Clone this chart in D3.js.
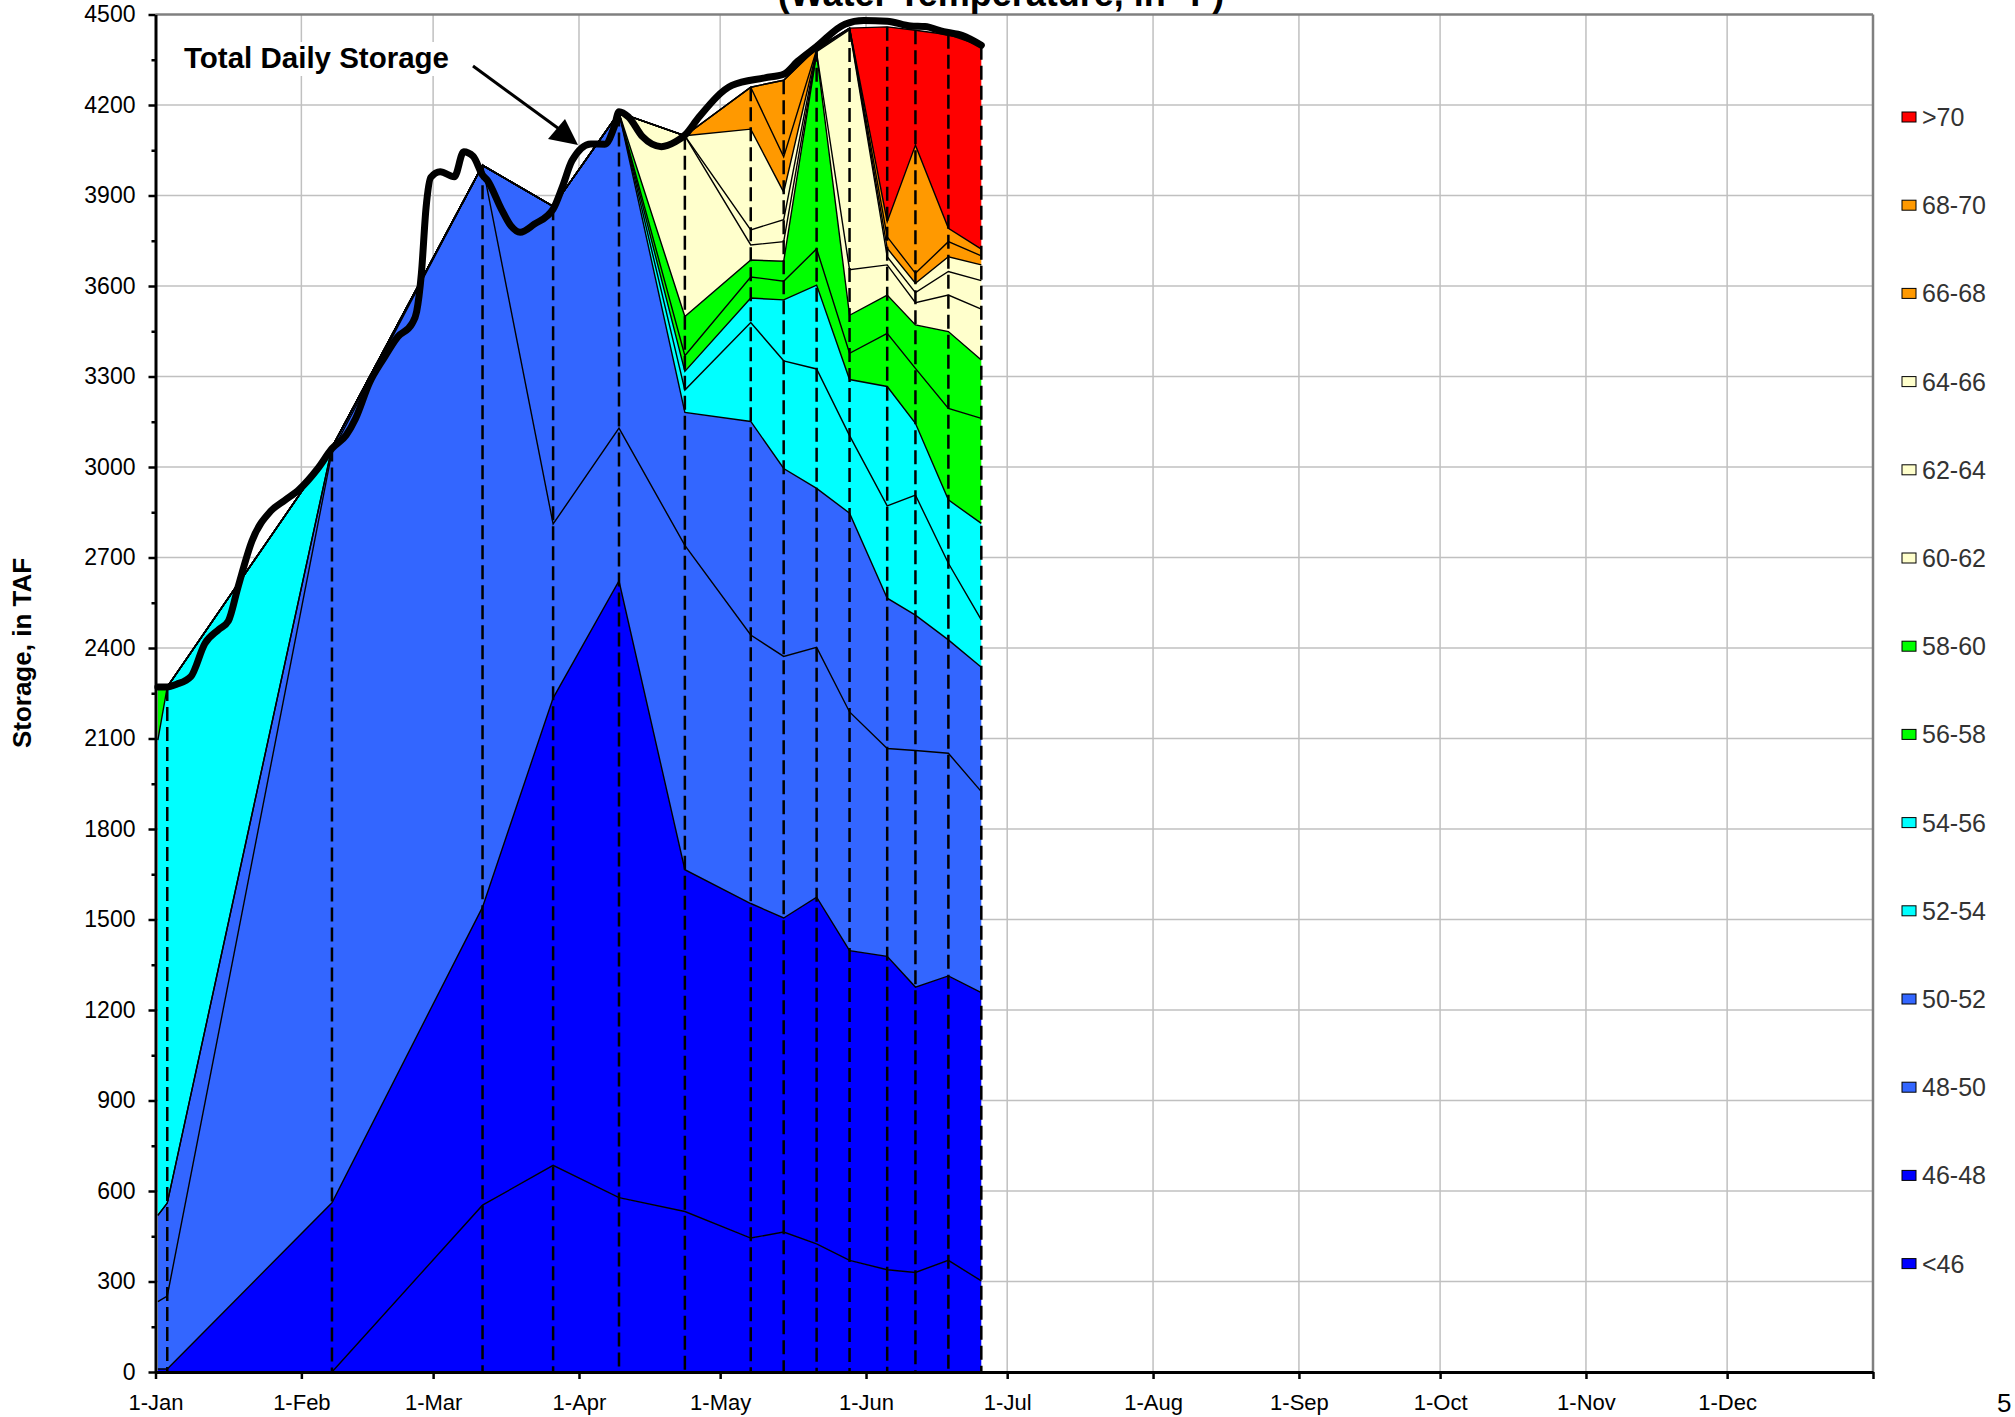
<!DOCTYPE html>
<html>
<head>
<meta charset="utf-8">
<script src="https://cdnjs.cloudflare.com/ajax/libs/d3/7.8.5/d3.min.js"></script>
<style>
  body { margin: 0; background: #fff; }
  svg text { font-family: "Liberation Sans", Arial, sans-serif; }
</style>
</head>
<body>
<script>
// temperature bands, bottom of the stack first
var bands = ["<46", "46-48", "48-50", "50-52", "52-54", "54-56", "56-58", "58-60", "60-62", "62-64", "64-66", "66-68", "68-70", ">70"];
var bandColors = ["#0000FF", "#0000FF", "#3366FF", "#3366FF", "#00FFFF", "#00FFFF", "#00FF00", "#00FF00", "#FFFFCC", "#FFFFCC", "#FFFFCC", "#FF9900", "#FF9900", "#FF0000"];

// temperature profile dates
var profileDates = ["2009-01-01", "2009-01-03", "2009-02-07", "2009-03-11", "2009-03-26", "2009-04-09", "2009-04-23",
    "2009-05-07", "2009-05-14", "2009-05-21", "2009-05-28", "2009-06-05", "2009-06-11", "2009-06-18", "2009-06-25"];

// storage in each band at each profile date (TAF)
var lt46   = [0, 0, 0, 553, 685, 578, 532, 444, 464, 425, 370, 339, 330, 370, 302];
var t46_48 = [10, 10, 561, 988, 1549, 2044, 1133, 1109, 1041, 1149, 1027, 1039, 946, 943, 956];
var t48_50 = [223, 242, 2489, 2459, 577, 507, 1075, 890, 867, 828, 791, 689, 784, 738, 666];
var t50_52 = [286, 308, 15, 0, 1053, 1046, 441, 708, 623, 527, 659, 498, 449, 376, 412];
var t52_54 = [0, 0, 0, 0, 0, 0, 74, 328, 357, 396, 257, 306, 398, 254, 157];
var t54_56 = [1576, 1711, 0, 0, 0, 0, 62, 81, 202, 278, 186, 396, 238, 210, 320];
var t56_58 = [176, 0, 0, 0, 0, 0, 52, 70, 62, 120, 87, 176, 182, 303, 348];
var t58_60 = [0, 0, 0, 0, 0, 0, 130, 56, 66, 647, 126, 127, 144, 255, 194];
var t60_62 = [0, 0, 0, 0, 0, 0, 599, 50, 65, 4, 151, 100, 74, 121, 168];
var t62_64 = [0, 0, 0, 0, 0, 0, 0, 50, 73, 3, 796, 27, 33, 78, 95];
var t64_66 = [0, 0, 0, 0, 0, 0, 0, 334, 91, 3, 5, 28, 31, 49, 52];
var t66_68 = [0, 0, 0, 0, 0, 0, 0, 139, 117, 3, 0, 38, 33, 50, 30];
var t68_70 = [0, 0, 0, 0, 0, 0, 0, 0, 254, 4, 0, 50, 425, 44, 22];
var gt70   = [0, 0, 0, 0, 0, 0, 0, 0, 0, 3, 0, 646, 381, 642, 674];

// total daily storage (TAF)
var dailyDates = ["2009-01-01", "2009-01-03", "2009-01-05", "2009-01-08", "2009-01-11", "2009-01-14", "2009-01-16",
    "2009-01-18", "2009-01-21", "2009-01-25", "2009-01-28", "2009-01-31", "2009-02-04", "2009-02-07", "2009-02-10",
    "2009-02-12", "2009-02-15", "2009-02-18", "2009-02-21", "2009-02-24", "2009-02-25", "2009-02-26", "2009-02-27",
    "2009-02-28", "2009-03-02", "2009-03-05", "2009-03-07", "2009-03-09", "2009-03-11", "2009-03-12", "2009-03-15",
    "2009-03-17", "2009-03-19", "2009-03-22", "2009-03-26", "2009-03-28", "2009-03-30", "2009-04-03", "2009-04-06",
    "2009-04-08", "2009-04-09", "2009-04-11", "2009-04-14", "2009-04-18", "2009-04-21", "2009-04-23", "2009-04-26",
    "2009-05-03", "2009-05-10", "2009-05-14", "2009-05-17", "2009-05-21", "2009-05-27", "2009-05-31", "2009-06-05",
    "2009-06-10", "2009-06-13", "2009-06-17", "2009-06-21", "2009-06-25"];
var dailyTotal = [2271, 2271, 2280, 2305, 2415, 2462, 2490,
    2600, 2755, 2854, 2890, 2925, 2995, 3061, 3105,
    3160, 3280, 3360, 3432, 3475, 3515, 3640, 3860,
    3960, 3979, 3962, 4045, 4030, 3968, 3951, 3855,
    3800, 3778, 3805, 3855, 3930, 4015, 4071, 4070,
    4128, 4178, 4161, 4095, 4062, 4078, 4100, 4160,
    4265, 4290, 4302, 4345, 4394, 4468, 4480, 4478,
    4462, 4460, 4443, 4430, 4398];

var yTicks = d3.range(0, 4501, 300);
var monthLabels = ["1-Jan", "1-Feb", "1-Mar", "1-Apr", "1-May", "1-Jun", "1-Jul", "1-Aug", "1-Sep", "1-Oct", "1-Nov", "1-Dec", ""];

var width = 2015;
var height = 1417;
var parse = d3.timeParse("%Y-%m-%d");

var svg = d3.select("body")
    .append("svg")
    .attr("width", width)
    .attr("height", height);

var x = d3.scaleTime()
    .domain([new Date(2009, 0, 1), new Date(2010, 0, 1)])
    .range([155.5, 1873]);
var y = d3.scaleLinear()
    .domain([0, 4500])
    .range([1372, 14.5]);

// points sit in the middle of their day
function xDay(d) { return x(d3.timeHour.offset(d, 12)); }

// table for the stack
var bandArrays = [lt46, t46_48, t48_50, t50_52, t52_54, t54_56, t56_58, t58_60, t60_62, t62_64, t64_66, t66_68, t68_70, gt70];
var table = profileDates.map(function(s, i) {
    var row = { date: parse(s) };
    bands.forEach(function(b, k) { row[b] = bandArrays[k][i]; });
    return row;
});
var series = d3.stack().keys(bands)(table);

// gridlines
var months = d3.timeMonth.range(new Date(2009, 0, 1), new Date(2010, 0, 2));
svg.append("g").selectAll("line")
    .data(yTicks.filter(function(v) { return v > 0 && v < 4500; }))
    .enter().append("line")
    .attr("x1", x.range()[0]).attr("x2", x.range()[1])
    .attr("y1", function(d) { return y(d); }).attr("y2", function(d) { return y(d); })
    .attr("stroke", "#c0c0c0").attr("stroke-width", 1.5);
svg.append("g").selectAll("line")
    .data(months.slice(1, 12))
    .enter().append("line")
    .attr("x1", function(d) { return x(d); }).attr("x2", function(d) { return x(d); })
    .attr("y1", y(4500)).attr("y2", y(0))
    .attr("stroke", "#c0c0c0").attr("stroke-width", 1.5);

// stacked areas
var area = d3.area()
    .x(function(d) { return xDay(d.data.date); })
    .y0(function(d) { return y(d[0]); })
    .y1(function(d) { return y(d[1]); });
svg.append("g").selectAll("path")
    .data(series)
    .enter().append("path")
    .attr("d", area)
    .attr("fill", function(d, i) { return bandColors[i]; });

var topLine = d3.line()
    .x(function(d) { return xDay(d.data.date); })
    .y(function(d) { return y(d[1]); });
svg.append("g").selectAll("path")
    .data(series)
    .enter().append("path")
    .attr("d", topLine)
    .attr("fill", "none")
    .attr("stroke", "#000")
    .attr("stroke-width", 1.4);

// dashed lines at each profile date
var last = series[series.length - 1];
svg.append("g").selectAll("line")
    .data(last.slice(1))
    .enter().append("line")
    .attr("x1", function(d) { return xDay(d.data.date); })
    .attr("x2", function(d) { return xDay(d.data.date); })
    .attr("y1", function(d) { return y(d[1]); })
    .attr("y2", y(0))
    .attr("stroke", "#000")
    .attr("stroke-width", 2.5)
    .attr("stroke-dasharray", "14,6");

// total daily storage
var daily = dailyDates.map(function(s, i) { return { date: parse(s), v: dailyTotal[i] }; });
svg.append("path")
    .datum(daily)
    .attr("d", d3.line()
        .curve(d3.curveMonotoneX)
        .x(function(d) { return xDay(d.date); })
        .y(function(d) { return y(d.v); }))
    .attr("fill", "none")
    .attr("stroke", "#000")
    .attr("stroke-width", 7)
    .attr("stroke-linejoin", "round")
    .attr("stroke-linecap", "round");

// frame top and right
svg.append("line")
    .attr("x1", x.range()[0]).attr("x2", x.range()[1])
    .attr("y1", y(4500)).attr("y2", y(4500))
    .attr("stroke", "#808080").attr("stroke-width", 2.5);
svg.append("line")
    .attr("x1", x.range()[1]).attr("x2", x.range()[1])
    .attr("y1", y(4500)).attr("y2", y(0))
    .attr("stroke", "#808080").attr("stroke-width", 2.5);

// y axis
var yAxis = svg.append("g")
    .attr("transform", "translate(" + x.range()[0] + ",0)")
    .call(d3.axisLeft(y).tickValues(yTicks).tickSize(7).tickSizeOuter(0).tickPadding(13)
        .tickFormat(d3.format("d")));
svg.append("g")
    .attr("transform", "translate(" + x.range()[0] + ",0)")
    .call(d3.axisLeft(y).tickValues(d3.range(150, 4500, 300)).tickSize(4).tickSizeOuter(0).tickFormat(""))
    .select(".domain").remove();

// x axis
var xAxis = svg.append("g")
    .attr("transform", "translate(0," + y(0) + ")")
    .call(d3.axisBottom(x).tickValues(months).tickSize(7).tickSizeOuter(0).tickPadding(15)
        .tickFormat(function(d, i) { return monthLabels[i]; }));

svg.selectAll(".domain").attr("stroke", "#000").attr("stroke-width", 3);
svg.selectAll(".tick line").attr("stroke", "#000").attr("stroke-width", 2.5);
yAxis.selectAll("text").style("font-size", "23px").attr("fill", "#000");
xAxis.selectAll("text").style("font-size", "22px").attr("fill", "#000");

// axis title
svg.append("text")
    .attr("transform", "translate(31,653) rotate(-90)")
    .attr("text-anchor", "middle")
    .style("font-size", "26px")
    .style("font-weight", "bold")
    .text("Storage, in TAF");

// chart title, cut off at the top of the page as in the original
svg.append("text")
    .attr("x", 1001)
    .attr("y", 6)
    .attr("text-anchor", "middle")
    .style("font-size", "36px")
    .style("font-weight", "bold")
    .text("(Water Temperature, in °F)");

// annotation
svg.append("rect")
    .attr("x", 178).attr("y", 42)
    .attr("width", 280).attr("height", 34)
    .attr("fill", "#fff");
svg.append("text")
    .attr("x", 184)
    .attr("y", 68)
    .style("font-size", "29.5px")
    .style("font-weight", "bold")
    .text("Total Daily Storage");
svg.append("line")
    .attr("x1", 473).attr("y1", 66)
    .attr("x2", 566).attr("y2", 134)
    .attr("stroke", "#000").attr("stroke-width", 3);
svg.append("path")
    .attr("d", "M578,145 L548,139 L565,119 Z")
    .attr("fill", "#000");

// legend
var legend = svg.append("g").selectAll("g")
    .data(bands.slice().reverse())
    .enter().append("g")
    .attr("transform", function(d, i) { return "translate(1902," + (117 + i * 88.2) + ")"; });
legend.append("rect")
    .attr("x", 0).attr("y", -5)
    .attr("width", 14).attr("height", 10)
    .attr("fill", function(d) { return bandColors[bands.indexOf(d)]; })
    .attr("stroke", "#000").attr("stroke-width", 1);
legend.append("text")
    .attr("x", 20)
    .attr("dy", "0.36em")
    .style("font-size", "25px")
    .attr("fill", "#333")
    .text(function(d) { return d; });

// page number
svg.append("text")
    .attr("x", 1997)
    .attr("y", 1412)
    .style("font-size", "26px")
    .text("5");
</script>
</body>
</html>
